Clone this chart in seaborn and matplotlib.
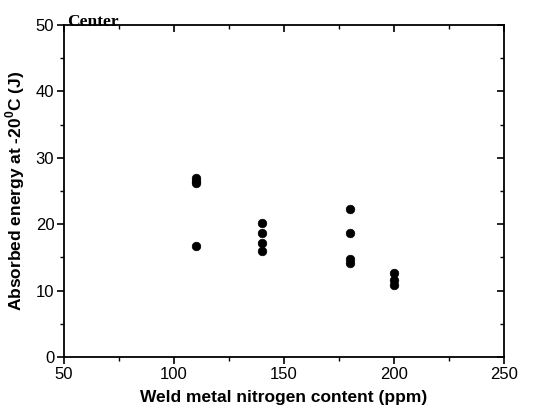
import matplotlib
matplotlib.use("Agg")
import matplotlib.pyplot as plt
import seaborn as sns
import pandas as pd
from matplotlib.ticker import MultipleLocator

nitrogen = [110, 110, 110, 110, 140, 140, 140, 140, 180, 180, 180, 180, 200, 200, 200]
energy = [27.0, 26.5, 26.2, 16.7, 20.1, 18.6, 17.1, 15.9, 22.3, 18.6, 14.8, 14.2, 12.6, 11.6, 10.8]
df = pd.DataFrame({"N": nitrogen, "E": energy})

sns.set_style("white")
plt.rcParams['font.family'] = ['Liberation Sans', 'DejaVu Sans']
plt.rcParams['text.color'] = 'black'
plt.rcParams['axes.labelcolor'] = 'black'
plt.rcParams['xtick.color'] = 'black'
plt.rcParams['ytick.color'] = 'black'

fig = plt.figure(figsize=(5.4, 4.16), dpi=100)
ax = fig.add_axes([0.1185, 0.142, 0.8145, 0.798])
sns.scatterplot(data=df, x="N", y="E", ax=ax, color="black", s=38, edgecolor="black", linewidth=0.5)

ax.set_xlim(50, 250)
ax.set_ylim(0, 50)
ax.xaxis.set_major_locator(MultipleLocator(50))
ax.xaxis.set_minor_locator(MultipleLocator(25))
ax.yaxis.set_major_locator(MultipleLocator(10))
ax.yaxis.set_minor_locator(MultipleLocator(5))
for sp in ax.spines.values():
    sp.set_color("black")
    sp.set_linewidth(1.3)
ax.tick_params(which="major", direction="out", length=5, width=1.2, labelsize=12, color="black", pad=2,
               left=True, bottom=True)
ax.tick_params(which="minor", direction="out", length=3, width=1.0, color="black", left=True, bottom=True)

top = ax.secondary_xaxis('top')
top.xaxis.set_major_locator(MultipleLocator(50))
top.xaxis.set_minor_locator(MultipleLocator(25))
top.tick_params(which="major", direction="in", length=5, width=1.2, labeltop=False)
top.tick_params(which="minor", direction="in", length=3, width=1.0)
right = ax.secondary_yaxis('right')
right.yaxis.set_major_locator(MultipleLocator(10))
right.yaxis.set_minor_locator(MultipleLocator(5))
right.tick_params(which="major", direction="in", length=5, width=1.2, labelright=False)
right.tick_params(which="minor", direction="in", length=3, width=1.0)
for s in (top, right):
    for sp in s.spines.values():
        sp.set_visible(False)

ax.set_xlabel("Weld metal nitrogen content (ppm)", fontsize=12.5, fontweight="bold", labelpad=6)
ax.set_ylabel("Absorbed energy at -20$^{\\mathregular{0}}$C (J)", fontsize=12.5, fontweight="bold", labelpad=6)

ax.text(0.008, 0.996, "Center", transform=ax.transAxes, fontsize=12.5, fontweight="bold",
        family=["Liberation Serif", "DejaVu Serif"], ha="left", va="baseline")

fig.savefig("out.png", dpi=100)
